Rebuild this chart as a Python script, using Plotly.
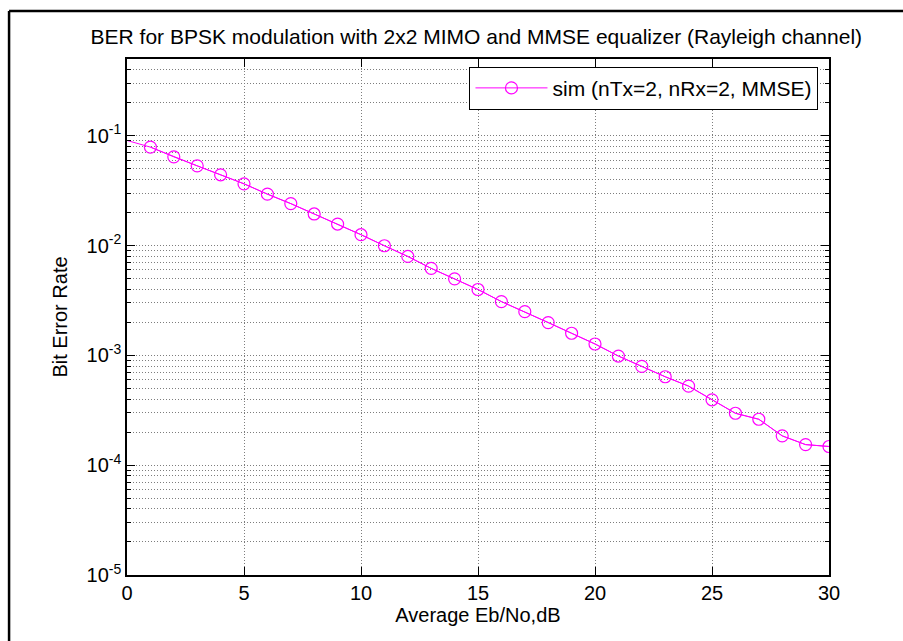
import plotly.graph_objects as go

# ---- data ----
ebno_db = list(range(0, 31))
sim_ber = [0.0906, 0.0788, 0.0643, 0.0532, 0.0441, 0.0365, 0.0294, 0.0241, 0.0194, 0.0157,
           0.01256, 0.00996, 0.00796, 0.0062, 0.00498, 0.00398, 0.00309, 0.00250, 0.00199,
           0.00159, 0.00127, 0.000986, 0.000794, 0.000639, 0.000525, 0.000394, 0.000297,
           0.000262, 0.000185, 0.000154, 0.000148]
x_ticks = [0, 5, 10, 15, 20, 25, 30]
y_major = [1e-5, 1e-4, 1e-3, 1e-2, 1e-1]
y_major_text = ["10<sup>-5</sup>", "10<sup>-4</sup>", "10<sup>-3</sup>", "10<sup>-2</sup>", "10<sup>-1</sup>"]
y_minor = [k * 10.0 ** e for e in range(-5, 0) for k in range(2, 10) if k * 10.0 ** e <= 0.5]

title_text = "BER for BPSK modulation with 2x2 MIMO and MMSE equalizer (Rayleigh channel)"
legend_name = "sim (nTx=2, nRx=2, MMSE)"

FONT = "Liberation Sans, Arial, sans-serif"
MAG = "#FF00FF"
GRID = "rgb(125,125,125)"
DASH = "1px,2px"

fig = go.Figure()
# line segment that includes the first point (no marker drawn there in the reference)
fig.add_trace(go.Scatter(x=ebno_db, y=sim_ber, mode="lines",
                         line=dict(color=MAG, width=1), showlegend=False, hoverinfo="skip"))
fig.add_trace(go.Scatter(x=ebno_db[1:], y=sim_ber[1:], mode="lines+markers", name=legend_name,
                         line=dict(color=MAG, width=1),
                         marker=dict(symbol="circle-open", size=12, color=MAG, line=dict(width=1.2, color=MAG))))

axis_common = dict(showline=True, linecolor="black", linewidth=1.5, mirror="ticks",
                   ticks="inside", tickcolor="black", tickfont=dict(family=FONT, size=20, color="black"),
                   showgrid=True, gridcolor=GRID, griddash=DASH, gridwidth=1, zeroline=False)

fig.update_xaxes(range=[0, 30], tickvals=x_ticks, ticklen=8, ticklabelstandoff=-1,
                 title=dict(text="Average Eb/No,dB", font=dict(family=FONT, size=20, color="black"), standoff=0),
                 **axis_common)
fig.update_yaxes(type="log", range=[-5, -0.30103], tickmode="array", tickvals=y_major, ticktext=y_major_text,
                 ticklen=8,
                 minor=dict(tickmode="array", tickvals=y_minor, ticks="inside", ticklen=4, tickcolor="black",
                            showgrid=True, gridcolor=GRID, griddash=DASH, gridwidth=1),
                 title=dict(text="Bit Error Rate", font=dict(family=FONT, size=20, color="black"), standoff=14),
                 **axis_common)

fig.update_layout(
    width=903, height=641,
    margin=dict(l=127, r=74, t=59, b=66, autoexpand=False),
    paper_bgcolor="white", plot_bgcolor="white",
    title=dict(text=title_text, x=0.5275, xanchor="center", y=1 - 37 / 641, yanchor="middle",
               font=dict(family=FONT, size=21, color="black")),
    legend=dict(x=0.985, y=0.985, xanchor="right", yanchor="top", bgcolor="white",
                bordercolor="black", borderwidth=1, itemwidth=72, tracegroupgap=0,
                font=dict(family=FONT, size=21, color="black")),
    shapes=[
        dict(type="line", xref="paper", yref="paper", x0=-0.168, x1=1.11, y0=1.093, y1=1.093,
             line=dict(color="black", width=2.5)),
        dict(type="line", xref="paper", yref="paper", x0=-0.168, x1=-0.168, y0=1.093, y1=-0.13,
             line=dict(color="black", width=2.5)),
    ],
)

fig.write_html("out.html", config={"displayModeBar": False},
               post_script="document.body.style.margin='0px';document.body.style.overflow='hidden';")
